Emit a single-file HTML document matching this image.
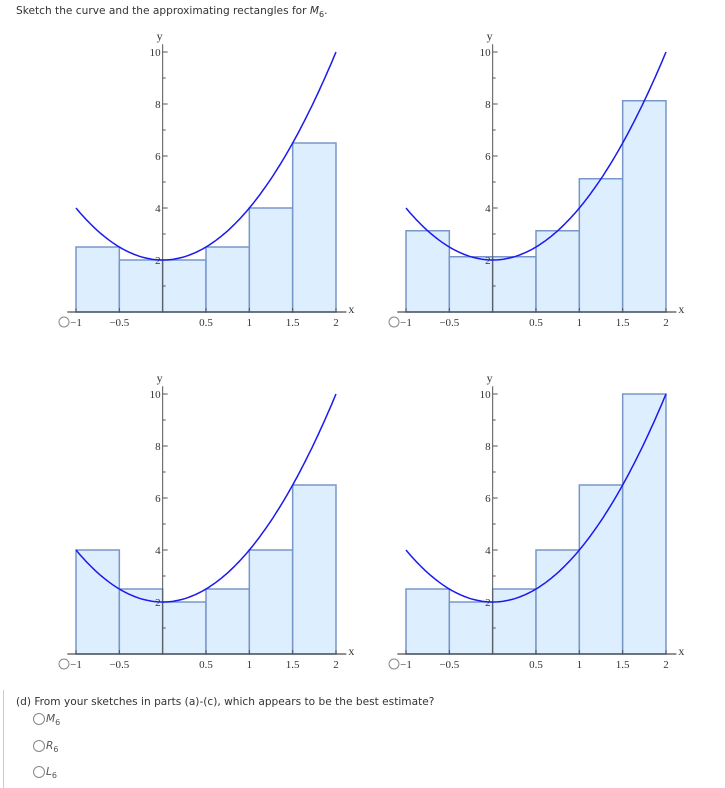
<!DOCTYPE html>
<html><head><meta charset="utf-8"><style>
body{margin:0;width:725px;height:788px;background:#fff;position:relative;overflow:hidden;font-family:Verdana,"DejaVu Sans",sans-serif;color:#333}
.t{position:absolute;font-size:10.6px;white-space:nowrap}
.r{position:absolute;width:10px;height:10px;border:1px solid #888;border-radius:50%;background:#fff}
svg{position:absolute;left:0;top:0}
</style></head><body>
<div class="t" style="left:16px;top:5px">Sketch the curve and the approximating rectangles for <i>M</i><sub style="font-size:8px">6</sub>.</div>
<svg id="chart" width="725" height="690"></svg>
<div style="position:absolute;left:3px;top:690px;width:1px;height:98px;background:#ccc"></div>
<div class="t" style="left:16px;top:696px">(d) From your sketches in parts (a)-(c), which appears to be the best estimate?</div>
<div class="r" style="left:33px;top:713px"></div>
<div class="t" style="left:46px;top:713px;color:#555"><i>M</i><sub style="font-size:8px">6</sub></div>
<div class="r" style="left:33px;top:740px"></div>
<div class="t" style="left:46px;top:740px;color:#555"><i>R</i><sub style="font-size:8px">6</sub></div>
<div class="r" style="left:33px;top:766px"></div>
<div class="t" style="left:46px;top:766px;color:#555"><i>L</i><sub style="font-size:8px">6</sub></div>
<script>
const edges=[-1,-0.5,0,0.5,1,1.5,2];
const heightsA=[2.5,2,2,2.5,4,6.5];
const heightsB=[3.125,2.125,2.125,3.125,5.125,8.125];
const heightsC=[4,2.5,2,2.5,4,6.5];
const heightsD=[2.5,2,2.5,4,6.5,10];
const xTicks=[-1,-0.5,0.5,1,1.5,2];
const xTickLabels=["\u22121","\u22120.5","0.5","1","1.5","2"];
const yTicks=[2,4,6,8,10];
const curveCoef=[2,0,2];
const svg=document.getElementById('chart');
const NS='http://www.w3.org/2000/svg';
function mk(tag,attrs,parent){const e=document.createElementNS(NS,tag);for(const k in attrs)e.setAttribute(k,attrs[k]);(parent||svg).appendChild(e);return e;}
const panels=[{x0:76,y0:312,h:heightsA,n:'a'},{x0:406,y0:312,h:heightsB,n:'b'},{x0:76,y0:654,h:heightsC,n:'c'},{x0:406,y0:654,h:heightsD,n:'d'}];
panels.forEach(p=>{
  const sx=v=>p.x0+(v+1)*260/3, sy=v=>p.y0-v*26;
  const g=mk('g',{});
  
  
  p.h.forEach((hv,i)=>{
    const r=mk('rect',{x:sx(edges[i]),y:sy(hv),width:sx(edges[i+1])-sx(edges[i]),height:sy(0)-sy(hv),fill:'#ddeeff',stroke:'#7896c8','stroke-width':1.5},g);
    
    
  });
  const xa=mk('line',{x1:sx(-1.1),x2:sx(2.12),y1:sy(0),y2:sy(0),stroke:'#222','stroke-width':1},g);
  
  const ya=mk('line',{x1:sx(0),x2:sx(0),y1:sy(0),y2:sy(10.3),stroke:'#555','stroke-width':1},g);
  
  for(let v=1;v<=10;v++){mk('line',{x1:sx(0),x2:sx(0)+(v%2?3:5),y1:sy(v),y2:sy(v),stroke:'#555'},g);}
  xTicks.forEach((v,i)=>{mk('line',{x1:sx(v),x2:sx(v),y1:sy(0),y2:sy(0)-4,stroke:'#555'},g);
    const t=mk('text',{x:sx(v),y:sy(0)+14,'text-anchor':'middle','font-size':11,'font-family':'Liberation Serif,serif',fill:'#333'},g);t.textContent=xTickLabels[i];
    });
  yTicks.forEach(v=>{const t=mk('text',{x:sx(0)-2,y:sy(v)+4,'text-anchor':'end','font-size':11,'font-family':'Liberation Serif,serif',fill:'#333'},g);t.textContent=v;
    });
  const yt=mk('text',{x:sx(0)-3,y:sy(10)-12,'text-anchor':'middle','font-size':12,'font-family':'Liberation Serif,serif',fill:'#333'},g);yt.textContent='y';
  
  const xt=mk('text',{x:sx(2.12)+2,y:sy(0)+1,'font-size':12,'font-family':'Liberation Serif,serif',fill:'#333'},g);xt.textContent='x';
  
  mk('circle',{cx:p.x0-12,cy:sy(0)+10,r:5,fill:'#fff',stroke:'#888'},g);
  let d='';for(let k=0;k<=120;k++){const x=-1+3*k/120,y=curveCoef[0]*x*x+curveCoef[1]*x+curveCoef[2];d+=(k?'L':'M')+sx(x).toFixed(1)+' '+sy(y).toFixed(1);}
  const c=mk('path',{d:d,fill:'none',stroke:'#1a1aee','stroke-width':1.5},g);
  
});
</script>
</body></html>
